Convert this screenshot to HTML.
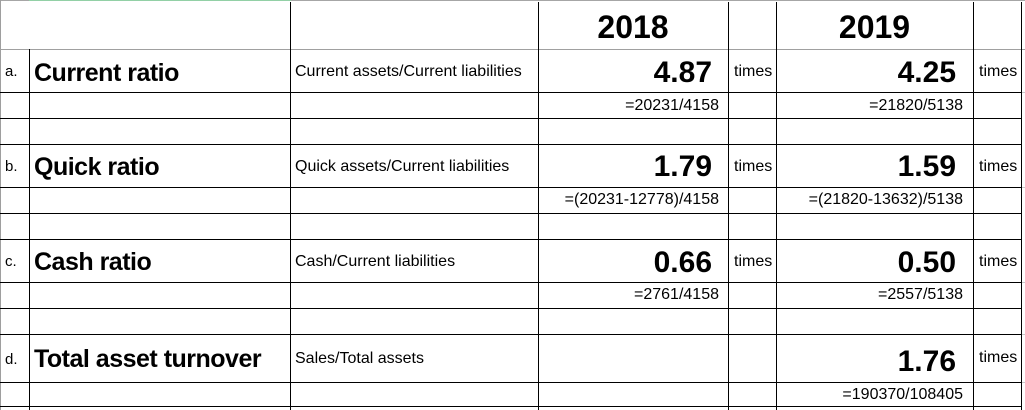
<!DOCTYPE html>
<html>
<head>
<meta charset="utf-8">
<style>
  html, body { margin:0; padding:0; background:#fff; }
  body { width:1025px; height:410px; position:relative; overflow:hidden;
         font-family:"Liberation Sans", Arial, sans-serif; color:#000; }
  .t { position:absolute; line-height:1; white-space:nowrap; }
  .h { position:absolute; height:1px; background:#000; }
  .v { position:absolute; width:1px; background:#000; }
  .lbl { font-size:25px; font-weight:bold; letter-spacing:-0.5px; left:34px; }
  .let { font-size:15px; left:5px; }
  .desc { font-size:16px; left:295px; }
  .big { font-size:30px; font-weight:bold; text-align:right; }
  .sm { font-size:16px; }
  .f { font-size:16px; text-align:right; }
  .hdr { font-size:32px; font-weight:bold; text-align:center; }
</style>
</head>
<body>
<!-- frame / gridlines -->
<div style="position:absolute;left:0;top:0;width:1025px;height:1px;background:#a6a6a6;"></div>
<div style="position:absolute;left:29px;top:0;width:262px;height:1px;background:#92d0a6;"></div>
<div style="position:absolute;left:0;top:0;width:1px;height:410px;background:#9e9e9e;"></div>
<div style="position:absolute;left:0;top:49px;width:1025px;height:1px;background:#a0a0a0;"></div>

<!-- horizontal black borders -->
<div class="h" style="left:0;top:92px;width:1022px;"></div>
<div class="h" style="left:0;top:118px;width:1022px;"></div>
<div class="h" style="left:0;top:144px;width:1022px;"></div>
<div class="h" style="left:0;top:187px;width:1022px;"></div>
<div class="h" style="left:0;top:213px;width:1022px;"></div>
<div class="h" style="left:0;top:239px;width:1022px;"></div>
<div class="h" style="left:0;top:282px;width:1022px;"></div>
<div class="h" style="left:0;top:308px;width:1022px;"></div>
<div class="h" style="left:0;top:334px;width:1022px;"></div>
<div class="h" style="left:0;top:382px;width:1022px;"></div>
<div class="h" style="left:0;top:406px;width:1022px;"></div>
<!-- gray gridline stubs right of table -->
<div style="position:absolute;left:1022px;top:92px;width:3px;height:1px;background:#c8c8c8;"></div>
<div style="position:absolute;left:1022px;top:187px;width:3px;height:1px;background:#c8c8c8;"></div>
<div style="position:absolute;left:1022px;top:282px;width:3px;height:1px;background:#c8c8c8;"></div>
<div style="position:absolute;left:1022px;top:334px;width:3px;height:1px;background:#c8c8c8;"></div>
<div style="position:absolute;left:1022px;top:382px;width:3px;height:1px;background:#c8c8c8;"></div>

<!-- vertical black borders -->
<div class="v" style="left:29px;top:49px;height:361px;"></div>
<div class="v" style="left:290px;top:2px;height:408px;"></div>
<div class="v" style="left:538px;top:2px;height:408px;"></div>
<div class="v" style="left:728px;top:2px;height:408px;"></div>
<div class="v" style="left:776px;top:2px;height:408px;"></div>
<div class="v" style="left:973px;top:2px;height:408px;"></div>
<div class="v" style="left:1021px;top:2px;height:408px;"></div>

<!-- headers -->
<div class="t hdr" style="left:538px;width:190px;top:11px;">2018</div>
<div class="t hdr" style="left:776px;width:197px;top:11px;">2019</div>

<!-- row a -->
<div class="t let" style="top:64px;">a.</div>
<div class="t lbl" style="top:61px;">Current ratio</div>
<div class="t desc" style="top:63.5px;">Current assets/Current liabilities</div>
<div class="t big" style="right:313px;top:58px;">4.87</div>
<div class="t sm" style="left:734px;top:63.5px;">times</div>
<div class="t big" style="right:69px;top:58px;">4.25</div>
<div class="t sm" style="left:979px;top:63.5px;">times</div>
<div class="t f" style="right:306px;top:97.5px;">=20231/4158</div>
<div class="t f" style="right:62px;top:97.5px;">=21820/5138</div>

<!-- row b -->
<div class="t let" style="top:159px;">b.</div>
<div class="t lbl" style="top:155px;">Quick ratio</div>
<div class="t desc" style="top:158.5px;">Quick assets/Current liabilities</div>
<div class="t big" style="right:313px;top:152px;">1.79</div>
<div class="t sm" style="left:734px;top:158.5px;">times</div>
<div class="t big" style="right:69px;top:152px;">1.59</div>
<div class="t sm" style="left:979px;top:158.5px;">times</div>
<div class="t f" style="right:306px;top:191.5px;">=(20231-12778)/4158</div>
<div class="t f" style="right:62px;top:191.5px;">=(21820-13632)/5138</div>

<!-- row c -->
<div class="t let" style="top:254px;">c.</div>
<div class="t lbl" style="top:250px;">Cash ratio</div>
<div class="t desc" style="top:253.5px;">Cash/Current liabilities</div>
<div class="t big" style="right:313px;top:247.5px;">0.66</div>
<div class="t sm" style="left:734px;top:253.5px;">times</div>
<div class="t big" style="right:69px;top:247.5px;">0.50</div>
<div class="t sm" style="left:979px;top:253.5px;">times</div>
<div class="t f" style="right:306px;top:286.5px;">=2761/4158</div>
<div class="t f" style="right:62px;top:286.5px;">=2557/5138</div>

<!-- row d -->
<div class="t let" style="top:352px;">d.</div>
<div class="t lbl" style="top:347px;">Total asset turnover</div>
<div class="t desc" style="top:350.5px;">Sales/Total assets</div>
<div class="t big" style="right:69px;top:346.5px;">1.76</div>
<div class="t sm" style="left:979px;top:349.5px;">times</div>
<div class="t f" style="right:62px;top:386.5px;">=190370/108405</div>
</body>
</html>
